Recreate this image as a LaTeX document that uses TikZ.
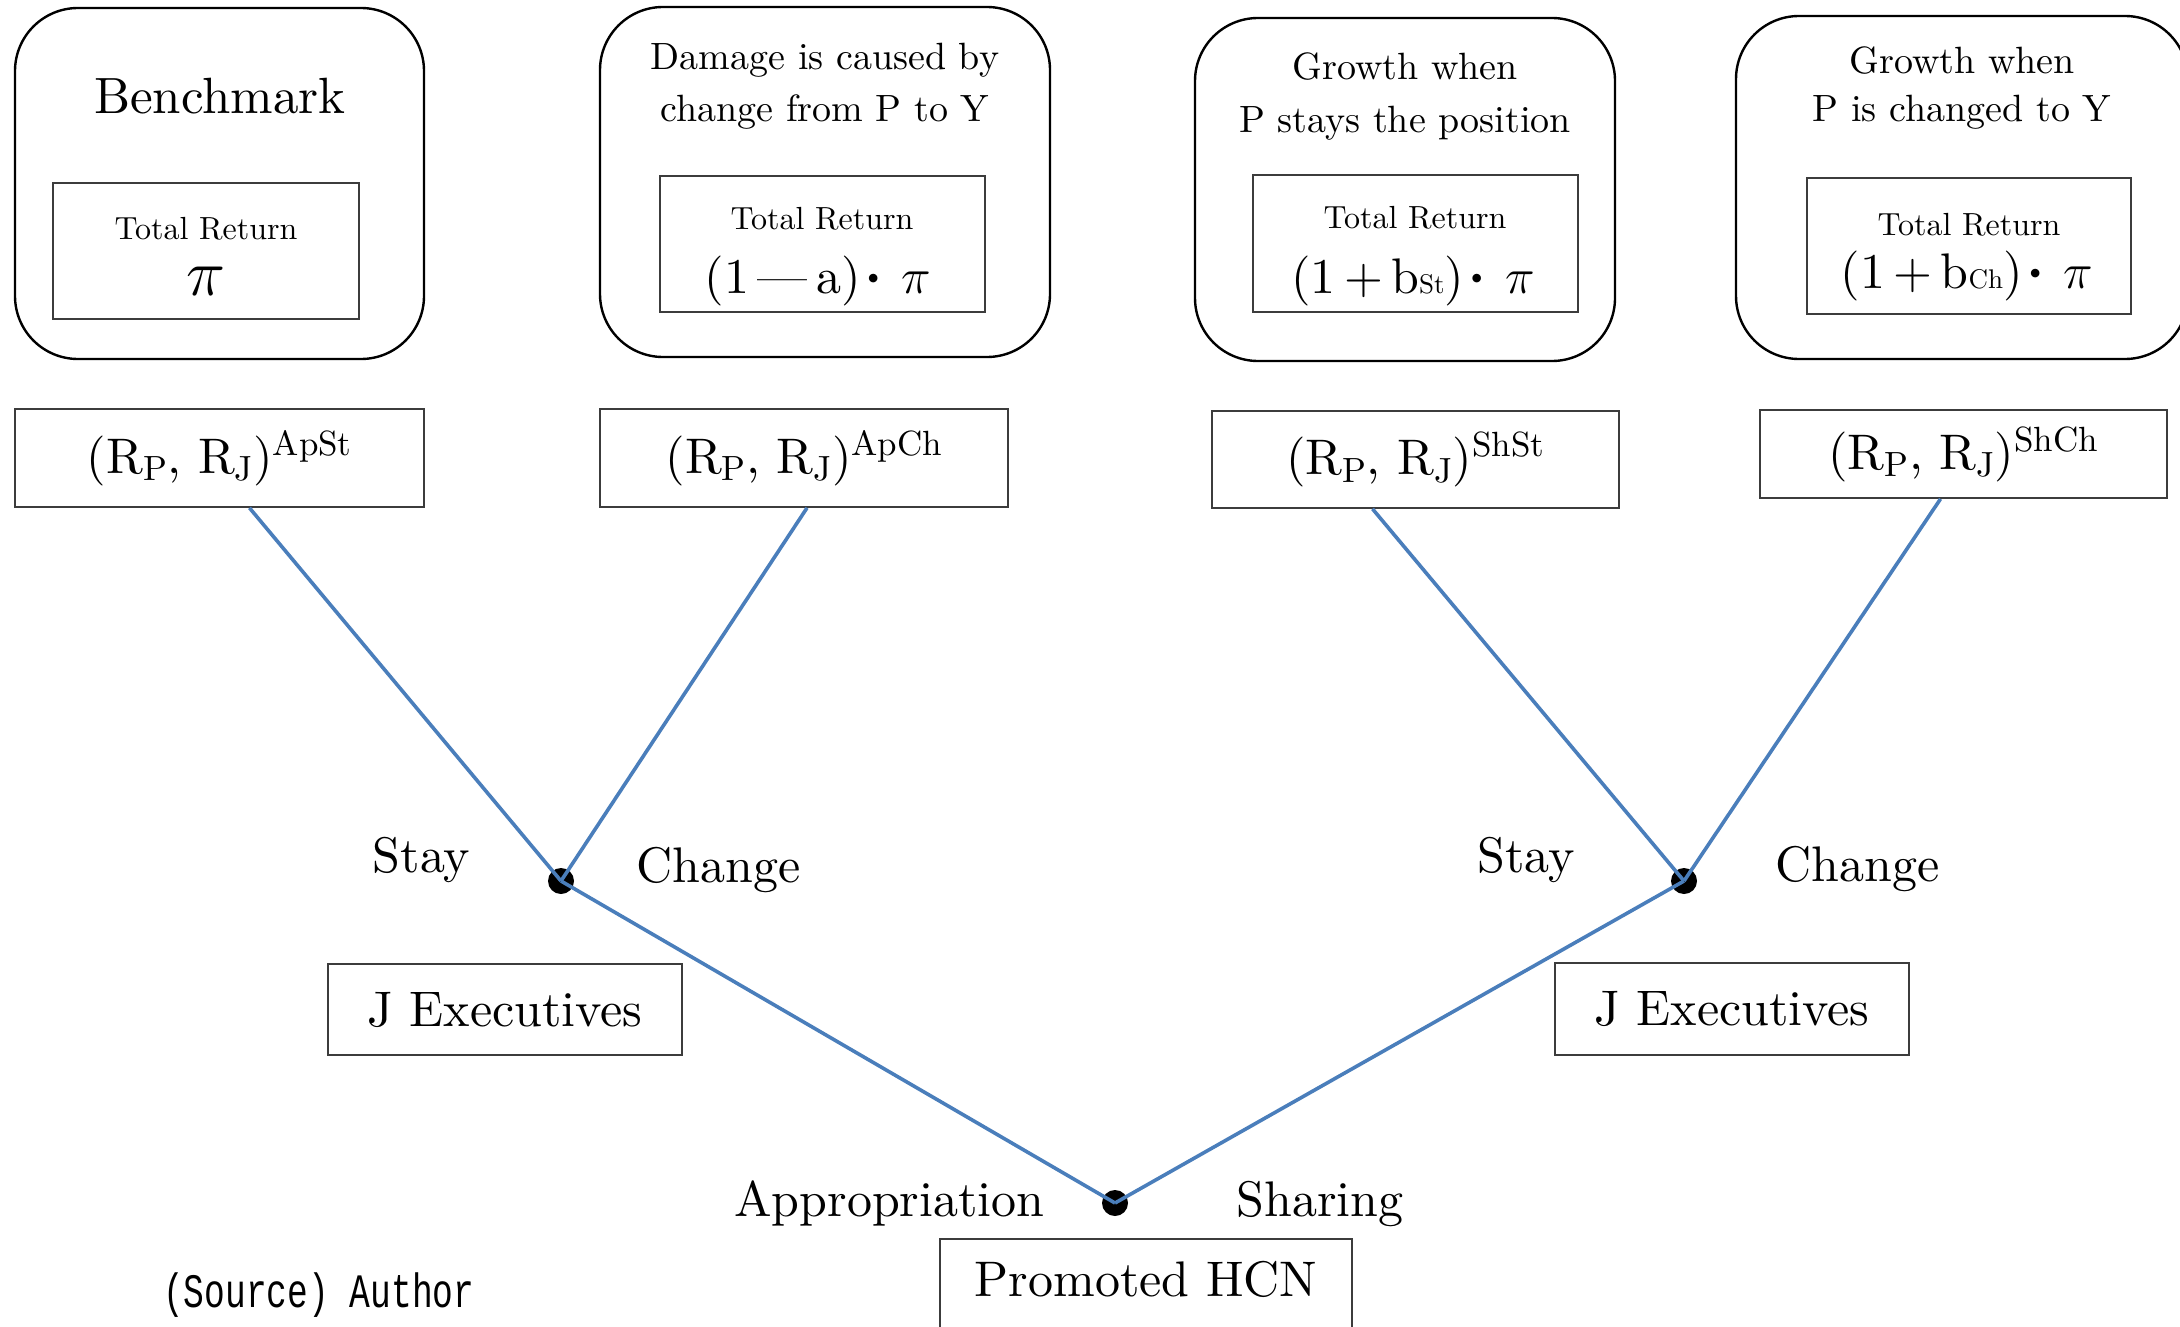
\documentclass[tikz,border=0pt]{standalone}
\usepackage{fix-cm}
\usepackage{fontspec}
\setmainfont{lmroman10-regular.otf}
\newfontfamily\srcfont{Liberation Mono}[FakeStretch=0.72]
\definecolor{branchblue}{RGB}{74,126,187}
\definecolor{boxgray}{RGB}{60,60,60}
\newcommand{\fs}[1]{\fontsize{#1}{#1}\selectfont}
\newcommand{\mdot}{\kern1pt\raisebox{8pt}{\fs{30}\textbullet}}
\tikzset{
  casebox/.style={draw=black, line width=2.4pt, rounded corners=63pt, inner sep=0pt},
  retbox/.style={draw=boxgray, line width=1.8pt, inner sep=0pt},
  payoff/.style={draw=boxgray, line width=1.8pt, inner sep=0pt, font=\fs{50}},
  actor/.style={draw=boxgray, line width=1.8pt, inner sep=0pt, font=\fs{50}},
  head/.style={anchor=base, inner sep=0pt, font=\fs{38}},
  retlabel/.style={anchor=base, inner sep=0pt, font=\fs{32}},
  formula/.style={anchor=base, inner sep=0pt, font=\fs{50}},
  choice/.style={anchor=base, inner sep=0pt, font=\fs{50}},
  decision/.style={circle, fill=black, inner sep=0pt, minimum size=26pt},
  branch/.style={draw=branchblue, line width=3.6pt}
}
\begin{document}
\begin{tikzpicture}[x=1pt, y=-1pt]
\useasboundingbox (0,0) rectangle (2180,1327);

% outcome boxes
\node[casebox, minimum width=409pt, minimum height=351pt] (b1) at (219.5,183.5) {};
\node[casebox, minimum width=450pt, minimum height=350pt] (b2) at (825,182) {};
\node[casebox, minimum width=420pt, minimum height=343pt] (b3) at (1405,189.5) {};
\node[casebox, minimum width=452pt, minimum height=343pt] (b4) at (1962,187.5) {};

\node[anchor=base, inner sep=0pt, font=\fs{51}] (t1) at (220,114) {Benchmark};
\node[head] (t2a) at (825,70) {Damage is caused by};
\node[head] (t2b) at (825,122) {change from P to Y};
\node[head] (t3a) at (1405,80) {Growth when};
\node[head] (t3b) at (1405,133) {P stays the position};
\node[head] (t4a) at (1962,74) {Growth when};
\node[head] (t4b) at (1962,122) {P is changed to Y};

% total return boxes
\node[retbox, minimum width=306pt, minimum height=136pt] (i1) at (206,251) {};
\node[retbox, minimum width=325pt, minimum height=136pt] (i2) at (822.5,244) {};
\node[retbox, minimum width=325pt, minimum height=137pt] (i3) at (1415.5,243.5) {};
\node[retbox, minimum width=324pt, minimum height=136pt] (i4) at (1969,246) {};

\node[retlabel] (r1) at (206,239) {Total Return};
\node[retlabel] (r2) at (822,229) {Total Return};
\node[retlabel] (r3) at (1415,228) {Total Return};
\node[retlabel] (r4) at (1969,235) {Total Return};

\node[formula, font=\fs{66}] (f1) at (206,295) {$\pi$};
\node[formula] (f2) at (818,293) {(1\,—\,a)\mdot\ $\pi$};
\node[formula] (f3) at (1413,293) {(1\,+\,b{\fs{27}St})\mdot\ $\pi$};
\node[formula] (f4) at (1967,288) {(1\,+\,b{\fs{27}Ch})\mdot\ $\pi$};

% payoff boxes
\node[payoff, minimum width=409pt, minimum height=98pt] (p1) at (219.5,458)
  {(R\textsubscript{P}, R\textsubscript{J})\textsuperscript{ApSt}};
\node[payoff, minimum width=408pt, minimum height=98pt] (p2) at (804,458)
  {(R\textsubscript{P}, R\textsubscript{J})\textsuperscript{ApCh}};
\node[payoff, minimum width=407pt, minimum height=97pt] (p3) at (1415.5,459.5)
  {(R\textsubscript{P}, R\textsubscript{J})\textsuperscript{ShSt}};
\node[payoff, minimum width=407pt, minimum height=88pt] (p4) at (1963.5,454)
  {(R\textsubscript{P}, R\textsubscript{J})\textsuperscript{ShCh}};

\coordinate (p1e) at ([xshift=30pt]p1.south);
\coordinate (p2e) at ([xshift=3pt]p2.south);
\coordinate (p3e) at ([xshift=-43pt]p3.south);
\coordinate (p4e) at ([xshift=-23pt]p4.south);

% players
\node[actor, minimum width=354pt, minimum height=91pt] (j1) at (505,1009.5) {J Executives};
\node[actor, minimum width=354pt, minimum height=92pt] (j2) at (1732,1009) {J Executives};
\node[actor, minimum width=412pt, minimum height=96pt, text depth=17pt] (hcn) at (1146,1287) {Promoted HCN};

% decision points
\node[decision] (d1) at (561,881) {};
\node[decision] (d2) at (1684,881) {};
\node[decision] (root) at (1115,1203) {};

% game tree branches
\draw[branch] (root.center) -- (d1.center);
\draw[branch] (root.center) -- (d2.center);
\draw[branch] (d1.center) -- (p1e);
\draw[branch] (d1.center) -- (p2e);
\draw[branch] (d2.center) -- (p3e);
\draw[branch] (d2.center) -- (p4e);

% move labels
\node[choice] (s1) at (421.5,872) {Stay};
\node[choice] (c1) at (718.5,882) {Change};
\node[choice] (s2) at (1526,872) {Stay};
\node[choice] (c2) at (1857.5,881) {Change};
\node[choice] (ap) at (889.5,1216) {Appropriation};
\node[choice] (sh) at (1320,1216) {Sharing};

\node[anchor=base west, inner sep=0pt, font=\srcfont\fontsize{48}{48}\selectfont] (src) at (163,1307) {(Source) Author};
\end{tikzpicture}
\end{document}
